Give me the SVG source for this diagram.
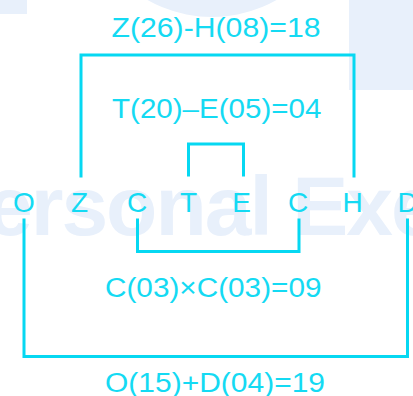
<svg xmlns="http://www.w3.org/2000/svg" width="413" height="396" viewBox="0 0 413 396">
  <style>
    .wm { fill: #e8f0fb; }
    .wmt { fill: #e8f0fb; font-family: "Liberation Sans", Arial, sans-serif; font-weight: bold; font-size: 84px; letter-spacing: -2px; }
    .ltr { fill: #14daf3; font-family: "Liberation Sans", Arial, sans-serif; font-size: 28px; text-anchor: middle; }
    .lbl { fill: #14daf3; font-family: "Liberation Sans", Arial, sans-serif; font-size: 27px; }
    .con { fill: none; stroke: #06d8f2; stroke-width: 3; stroke-linecap: square; }
  </style>
  <rect width="413" height="396" fill="#ffffff"/>
  <g id="watermark">
    <rect class="wm" x="0" y="0" width="27" height="14"/>
    <circle class="wm" cx="212" cy="-114" r="131"/>
    <rect class="wm" x="349" y="0" width="64" height="90"/>
    <text class="wmt" x="-14" y="235">ersonal Exe</text>
  </g>
  <g id="connectors">
    <path class="con" d="M81,176 V55 H354 V176"/>
    <path class="con" d="M188.5,175 V144 H243.5 V175"/>
    <path class="con" d="M137.5,220 V251.5 H299 V220"/>
    <path class="con" d="M24,220 V356.5 H407.5 V220"/>
  </g>
  <g id="labels">
    <text class="lbl" x="111.5" y="36.5" textLength="209" lengthAdjust="spacingAndGlyphs">Z(26)-H(08)=18</text>
    <text class="lbl" x="112" y="118" textLength="209.5" lengthAdjust="spacingAndGlyphs">T(20)–E(05)=04</text>
    <text class="lbl" x="105" y="297" textLength="216.5" lengthAdjust="spacingAndGlyphs">C(03)×C(03)=09</text>
    <text class="lbl" x="105" y="391.5" textLength="220" lengthAdjust="spacingAndGlyphs">O(15)+D(04)=19</text>
  </g>
  <g id="node-O"><text class="ltr" x="24" y="212">O</text></g>
  <g id="node-Z"><text class="ltr" x="79.5" y="212">Z</text></g>
  <g id="node-C1"><text class="ltr" x="137" y="212">C</text></g>
  <g id="node-T"><text class="ltr" x="188.5" y="212">T</text></g>
  <g id="node-E"><text class="ltr" x="241.5" y="212">E</text></g>
  <g id="node-C2"><text class="ltr" x="298" y="212">C</text></g>
  <g id="node-H"><text class="ltr" x="352.5" y="212">H</text></g>
  <g id="node-D"><text class="ltr" x="407.5" y="212">D</text></g>
</svg>
